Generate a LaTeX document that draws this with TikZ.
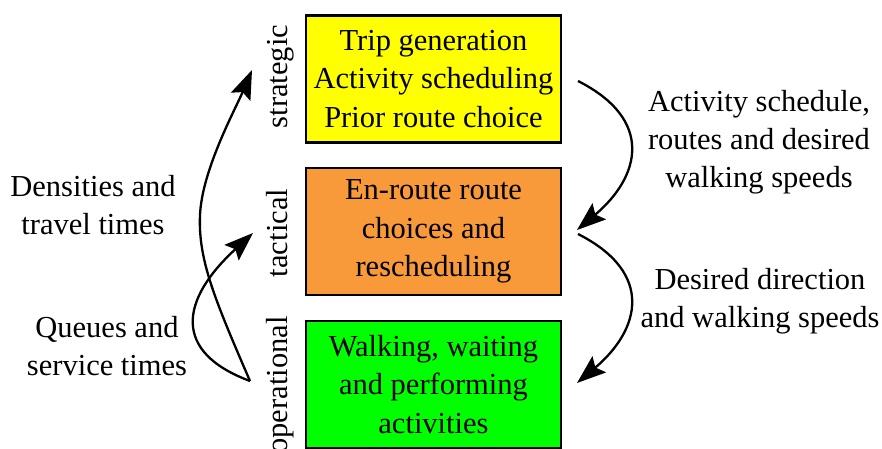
\documentclass[tikz,border=0pt]{standalone}
\usepackage{fontspec}
\setmainfont{Liberation Serif}
\usetikzlibrary{arrows.meta}
\definecolor{stratyellow}{RGB}{255,255,0}
\definecolor{tactorange}{RGB}{248,154,58}
\definecolor{opgreen}{RGB}{0,255,0}
\begin{document}
\begin{tikzpicture}[x=1pt,y=-1pt,
  level/.style={draw=black, line width=2.6pt, minimum width=255pt, minimum height=127pt,
    inner sep=0pt, align=center, font=\fontsize{30.5}{38.5}\selectfont},
  lab/.style={align=center, inner sep=0pt, font=\fontsize{30.5}{38}\selectfont},
  tier/.style={rotate=90, anchor=base, inner sep=0pt, font=\fontsize{30.5}{36}\selectfont},
  flow/.style={line width=2.3pt, -{Stealth[length=29pt,width=21pt,inset=5pt]}}]
  \clip (0,0) rectangle (882,449);

  % the three planning levels
  \node[level, fill=stratyellow] (S) at (433.5,79)
    {Trip generation\\Activity scheduling\\Prior route choice};
  \node[level, fill=tactorange] (T) at (433.5,231.5)
    {En-route route\\choices and\\rescheduling};
  \node[level, fill=opgreen] (O) at (433.5,384.5)
    {Walking, waiting\\and performing\\activities};

  % level names, reading upwards
  \node[tier] (ls) at (287.5,76.5) {strategic};
  \node[tier] (lt) at (287.5,233) {tactical};
  \node[tier] (lo) at (287.5,385) {operational};

  % flow labels
  \node[lab] (down1) at (759,142) {Activity schedule,\\routes and desired\\walking speeds};
  \node[lab] (down2) at (760,301) {Desired direction\\and walking speeds};
  \node[lab] (up1) at (93,205) {Densities and\\travel times};
  \node[lab] (up2) at (107,346) {Queues and\\service times};

  % end points of the feedback and guidance arrows
  \coordinate (apex) at (250,381);
  \coordinate (tipS) at (252,70);
  \coordinate (tipT) at (253,233);
  \coordinate (r1s) at (578,81);
  \coordinate (r1e) at (577,230);
  \coordinate (r2s) at (578,234);
  \coordinate (r2e) at (577,383);

  % downward guidance
  \draw[flow] (r1s) .. controls (655,120) and (640,177) .. (r1e);
  \draw[flow] (r2s) .. controls (655,273) and (640,330) .. (r2e);

  % upward feedback
  \draw[flow] (apex) .. controls (215,300) and (198,260) .. (200,215)
                     .. controls (202,170) and (235,110) .. (tipS);
  \draw[flow] (apex) .. controls (172,352) and (180,300) .. (tipT);
\end{tikzpicture}
\end{document}
